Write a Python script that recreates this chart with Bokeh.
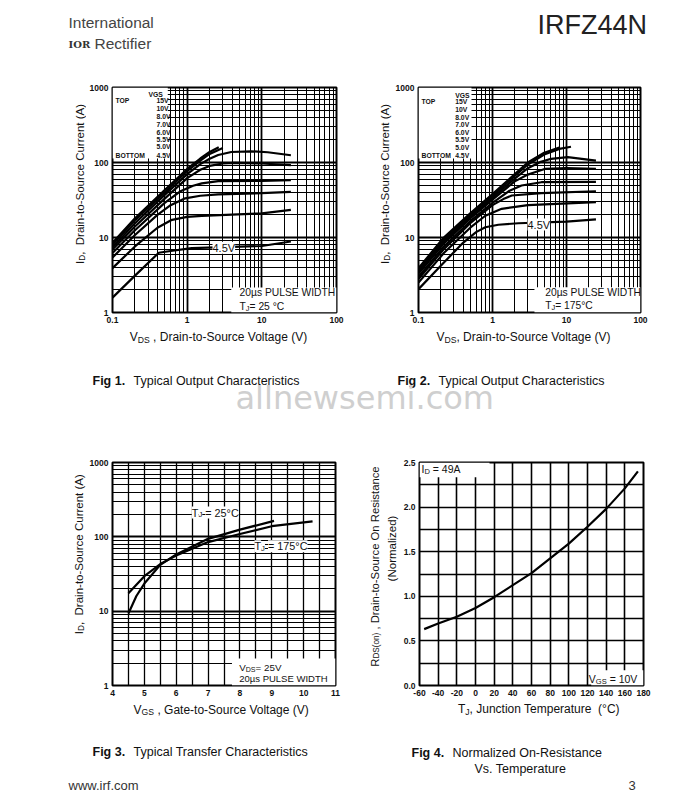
import math
from bokeh.plotting import figure
from bokeh.layouts import column, row
from bokeh.models import (Label, BoxAnnotation, FixedTicker, CustomJSTickFormatter,
                          PrintfTickFormatter, Range1d)
from bokeh.embed import file_html
from bokeh.resources import INLINE

# ---------------- data: Fig 1 (TJ = 25 C) ----------------
VGS_LABELS = ["15V", "10V", "8.0V", "7.0V", "6.0V", "5.5V", "5.0V", "4.5V"]
F1_15V_VDS = [0.1, 0.2, 0.5, 1.0, 1.5, 2.0, 2.65]
F1_15V_ID = [8.5, 18.0, 43.0, 82.0, 113.0, 138.0, 160.0]
F1_10V_VDS = [0.1, 0.2, 0.5, 1.0, 1.5, 2.0, 3.0]
F1_10V_ID = [8.0, 17.0, 40.0, 77.0, 106.0, 130.0, 156.0]
F1_8V_VDS = [0.1, 0.2, 0.5, 1.0, 1.5, 2.0, 2.6, 3.9, 7.2, 12.0, 24.5]
F1_8V_ID = [7.4, 15.5, 37.0, 70.0, 95.0, 112.0, 126.0, 138.0, 141.0, 137.0, 125.0]
F1_7V_VDS = [0.1, 0.2, 0.5, 1.0, 1.5, 2.0, 3.0, 4.3, 10.0, 24.5]
F1_7V_ID = [6.9, 14.0, 33.0, 62.0, 80.0, 90.0, 97.0, 99.0, 97.0, 92.0]
F1_6V_VDS = [0.1, 0.2, 0.5, 0.8, 1.2, 1.57, 2.6, 10.0, 24.5]
F1_6V_ID = [6.2, 12.5, 29.0, 41.0, 49.0, 52.7, 56.5, 57.0, 58.0]
F1_55V_VDS = [0.1, 0.2, 0.4, 0.6, 0.94, 1.5, 2.6, 10.0, 24.5]
F1_55V_ID = [5.4, 10.8, 20.0, 27.0, 33.3, 36.0, 37.6, 39.0, 40.7]
F1_5V_VDS = [0.1, 0.2, 0.4, 0.626, 1.0, 1.57, 10.0, 24.5]
F1_5V_ID = [3.9, 7.6, 13.5, 17.2, 18.8, 19.4, 21.0, 23.3]
F1_45V_VDS = [0.1, 0.2, 0.417, 0.6, 1.15, 10.0, 24.5]
F1_45V_ID = [1.58, 3.1, 6.26, 6.6, 7.2, 7.7, 8.84]

# ---------------- data: Fig 2 (TJ = 175 C) ----------------
F2_15V_VDS = [0.1, 0.22, 0.5, 1.0, 2.0, 3.0, 5.0, 8.0]
F2_15V_ID = [3.9, 10.0, 21.0, 38.0, 70.0, 100.0, 135.0, 158.0]
F2_10V_VDS = [0.1, 0.22, 0.5, 1.0, 2.0, 3.0, 5.0, 8.0, 11.5]
F2_10V_ID = [3.7, 9.4, 20.0, 36.0, 66.0, 94.0, 128.0, 152.0, 162.0]
F2_8V_VDS = [0.1, 0.22, 0.5, 1.0, 2.0, 3.0, 4.5, 6.2, 10.4, 25.0]
F2_8V_ID = [3.5, 8.8, 19.0, 34.0, 61.0, 84.0, 102.0, 112.0, 118.0, 106.0]
F2_7V_VDS = [0.1, 0.22, 0.5, 1.0, 2.0, 3.0, 3.73, 5.07, 10.0, 25.0]
F2_7V_ID = [3.3, 8.3, 18.0, 32.0, 56.0, 69.0, 74.0, 82.0, 84.0, 82.4]
F2_6V_VDS = [0.1, 0.22, 0.5, 1.0, 1.7, 2.47, 4.58, 25.0]
F2_6V_ID = [3.0, 7.6, 16.5, 29.0, 42.0, 49.3, 54.6, 55.0]
F2_55V_VDS = [0.1, 0.22, 0.5, 1.0, 1.4, 1.82, 4.58, 25.0]
F2_55V_ID = [2.8, 7.0, 15.5, 27.0, 32.5, 36.3, 39.0, 41.4]
F2_5V_VDS = [0.1, 0.22, 0.5, 0.8, 1.33, 3.0, 25.0]
F2_5V_ID = [2.5, 6.2, 13.5, 19.5, 24.1, 27.0, 29.6]
F2_45V_VDS = [0.1, 0.2, 0.4, 0.6, 0.8, 1.2, 2.23, 10.0, 25.0]
F2_45V_ID = [2.05, 4.2, 8.5, 11.8, 13.7, 14.8, 15.5, 16.3, 17.4]

# ---------------- data: Fig 3 (transfer) ----------------
F3_25C_VGS = [4.5, 4.75, 5.0, 5.5, 6.0, 7.0, 8.0, 9.07]
F3_25C_ID = [9.3, 16.0, 23.5, 42.0, 58.0, 94.0, 125.0, 164.0]
F3_175C_VGS = [4.5, 5.0, 5.5, 6.0, 7.0, 8.0, 9.0, 10.28]
F3_175C_ID = [17.4, 29.6, 43.0, 56.0, 85.0, 109.0, 139.0, 161.0]

# ---------------- data: Fig 4 (normalized RDS(on)) ----------------
F4_TJ = [-55, -40, -20, 0, 20, 40, 60, 80, 100, 120, 140, 160, 174]
F4_RDS = [0.632, 0.695, 0.77, 0.868, 0.99, 1.125, 1.26, 1.425, 1.59, 1.78, 1.98, 2.21, 2.40]

# tick values
LOG_X_TICKS = [0.1, 1, 10, 100]
LOG_Y_TICKS = [1, 10, 100, 1000]
F3_X_TICKS = [4, 5, 6, 7, 8, 9, 10, 11]
F4_X_TICKS = [-60, -40, -20, 0, 20, 40, 60, 80, 100, 120, 140, 160, 180]
F4_Y_TICKS = [0.0, 0.5, 1.0, 1.5, 2.0, 2.5]

FONT = "Liberation Sans"
AW = {' ': 278, '!': 278, '"': 355, '#': 556, '$': 556, '%': 889, '&': 667, "'": 191, '(': 333,
      ')': 333, '*': 389, '+': 584, ',': 278, '-': 333, '.': 278, '/': 278, ':': 278, ';': 278,
      '<': 584, '=': 584, '>': 584, '?': 556, '@': 1015, 'A': 667, 'B': 667, 'C': 722, 'D': 722,
      'E': 667, 'F': 611, 'G': 778, 'H': 722, 'I': 278, 'J': 500, 'K': 667, 'L': 556, 'M': 833,
      'N': 722, 'O': 778, 'P': 667, 'Q': 778, 'R': 722, 'S': 667, 'T': 611, 'U': 722, 'V': 667,
      'W': 944, 'X': 667, 'Y': 667, 'Z': 611, 'a': 556, 'b': 556, 'c': 500, 'd': 556, 'e': 556,
      'f': 278, 'g': 556, 'h': 556, 'i': 222, 'j': 222, 'k': 500, 'l': 222, 'm': 833, 'n': 556,
      'o': 556, 'p': 556, 'q': 556, 'r': 333, 's': 500, 't': 278, 'u': 556, 'v': 500, 'w': 722,
      'x': 500, 'y': 500, 'z': 500, '°': 400, 'µ': 556}
NBSP = "\u00a0"


def tw(s, size):
    return sum(AW.get(c, 556) for c in s) * size / 1000.0


def put(pane, x, y, text, size, bold=False, angle=0.0, color="#111111", font=FONT, bg=None,
        align="left"):
    # pane = (figure, frame_left, frame_bottom) in page pixels; (x, y) = left/centre of text
    p, fl, fb = pane
    lab = Label(x=x - fl, y=fb - y, x_units="screen", y_units="screen",
                text=text.replace("  ", " " + NBSP), angle=angle, text_font=font,
                text_font_size=f"{size}px", text_font_style="bold" if bold else "normal",
                text_color=color, text_baseline="middle", text_align=align)
    if bg:
        lab.background_fill_color = bg
    p.add_layout(lab)


def rich(pane, cx, cy, parts, size, vertical=False, start=None, bg=None):
    sizes = [size * 0.72 if k == "sub" else size for _, k in parts]
    total = sum(tw(t, s) for (t, k), s in zip(parts, sizes))
    pos = 0.0
    for (t, k), s in zip(parts, sizes):
        shift = 0.22 * size if k == "sub" else 0.0
        lead = len(t) - len(t.lstrip(" "))
        pos += tw(" " * lead, s)          # leading blanks become an offset
        body = t[lead:]
        if not vertical:
            x0 = (cx - total / 2) if start is None else start
            put(pane, x0 + pos, cy + shift, body, s, bg=bg)
        else:
            y0 = cy + total / 2
            put(pane, cx + shift, y0 - pos, body, s, angle=math.pi / 2)
        pos += tw(body, s)


def minors_log(k0, k1):
    return [m * 10.0 ** k for k in range(k0, k1) for m in range(2, 10)]


def make_fig(w, h, l, r, t, b, xr, yr, xlog, ylog):
    p = figure(width=w, height=h, min_border_left=l, min_border_right=r, min_border_top=t,
               min_border_bottom=b, x_range=xr, y_range=yr,
               x_axis_type="log" if xlog else "linear", y_axis_type="log" if ylog else "linear",
               output_backend="svg", toolbar_location=None)
    p.outline_line_color = "black"
    p.outline_line_width = 2
    p.background_fill_color = "white"
    p.border_fill_color = "white"
    for ax in (p.xaxis[0], p.yaxis[0]):
        ax.axis_line_color = None
        ax.major_tick_line_color = None
        ax.minor_tick_line_color = None
        ax.major_tick_out = 0
        ax.major_tick_in = 0
        ax.minor_tick_out = 0
        ax.minor_tick_in = 0
        ax.major_label_text_font = FONT
        ax.major_label_text_font_size = "8.5px"
        ax.major_label_text_font_style = "bold"
        ax.major_label_text_color = "#111111"
        ax.major_label_standoff = 4
    for g in (p.xgrid[0], p.ygrid[0]):
        g.level = "image"
        g.grid_line_color = "black"
        g.minor_grid_line_color = "black"
    return p


def strip(w, h):
    s = figure(width=w, height=h, x_range=Range1d(0, 1), y_range=Range1d(0, 1), min_border=0,
               x_axis_location=None, y_axis_location=None, output_backend="svg",
               toolbar_location=None)
    s.grid.visible = False
    s.outline_line_color = None
    s.background_fill_color = "white"
    s.border_fill_color = "white"
    return s


def set_ticks(p, dim, ticks, minors, fmt, major_w, minor_w):
    tk = FixedTicker(ticks=ticks, minor_ticks=minors)
    ax = p.xaxis[0] if dim == "x" else p.yaxis[0]
    g = p.xgrid[0] if dim == "x" else p.ygrid[0]
    ax.ticker = tk
    g.ticker = tk
    ax.formatter = fmt
    g.grid_line_width = major_w
    g.minor_grid_line_width = minor_w


def white_box(p, left, right, bottom, top):
    p.add_layout(BoxAnnotation(left=left, right=right, bottom=bottom, top=top,
                               fill_color="white", fill_alpha=1.0, line_color=None,
                               level="underlay"))


LOGFMT = CustomJSTickFormatter(code="return String(tick)")

# ---------------- Fig 1 ----------------
f1 = make_fig(264, 260, 24, 14, 17, 17, Range1d(0.1, 100), Range1d(1, 1000), True, True)
set_ticks(f1, "x", LOG_X_TICKS, minors_log(-1, 2), LOGFMT, 1.8, 1.0)
set_ticks(f1, "y", LOG_Y_TICKS, minors_log(0, 3), LOGFMT, 1.8, 1.0)
white_box(f1, 0.1, 0.55, 113, 1000)
white_box(f1, 3.9, 100, 1, 2.15)
for xs, ys in [(F1_15V_VDS, F1_15V_ID), (F1_10V_VDS, F1_10V_ID), (F1_8V_VDS, F1_8V_ID),
               (F1_7V_VDS, F1_7V_ID), (F1_6V_VDS, F1_6V_ID), (F1_55V_VDS, F1_55V_ID),
               (F1_5V_VDS, F1_5V_ID), (F1_45V_VDS, F1_45V_ID)]:
    f1.line(xs, ys, line_color="black", line_width=2.2, line_join="round")
P1 = (f1, 110, 313)

# ---------------- Fig 2 ----------------
f2 = make_fig(307, 260, 24, 59, 17, 18, Range1d(0.1, 100), Range1d(1, 1000), True, True)
set_ticks(f2, "x", LOG_X_TICKS, minors_log(-1, 2), LOGFMT, 1.8, 1.0)
set_ticks(f2, "y", LOG_Y_TICKS, minors_log(0, 3), LOGFMT, 1.8, 1.0)
white_box(f2, 0.1, 0.52, 113, 1000)
white_box(f2, 3.69, 100, 1, 2.17)
for xs, ys in [(F2_15V_VDS, F2_15V_ID), (F2_10V_VDS, F2_10V_ID), (F2_8V_VDS, F2_8V_ID),
               (F2_7V_VDS, F2_7V_ID), (F2_6V_VDS, F2_6V_ID), (F2_55V_VDS, F2_55V_ID),
               (F2_5V_VDS, F2_5V_ID), (F2_45V_VDS, F2_45V_ID)]:
    f2.line(xs, ys, line_color="black", line_width=2.2, line_join="round")
P2 = (f2, 416, 312)

# ---------------- Fig 3 ----------------
f3 = make_fig(264, 283, 24, 15, 41, 16, Range1d(4, 11), Range1d(1, 1000), False, True)
set_ticks(f3, "x", F3_X_TICKS, [v + 0.5 for v in F3_X_TICKS[:-1]],
          PrintfTickFormatter(format="%d"), 1.3, 1.3)
set_ticks(f3, "y", LOG_Y_TICKS, minors_log(0, 3), LOGFMT, 1.8, 1.0)
white_box(f3, 7.75, 11, 1, 2.31)
f3.line(F3_25C_VGS, F3_25C_ID, line_color="black", line_width=2.2, line_join="round")
f3.line(F3_175C_VGS, F3_175C_ID, line_color="black", line_width=2.2, line_join="round")
P3 = (f3, 110, 687)

# ---------------- Fig 4 ----------------
f4 = make_fig(299, 283, 19, 56, 42, 18, Range1d(-60, 180), Range1d(0, 2.5), False, False)
set_ticks(f4, "x", F4_X_TICKS, [], PrintfTickFormatter(format="%d"), 1.6, 1.6)
set_ticks(f4, "y", F4_Y_TICKS, [v + 0.25 for v in F4_Y_TICKS[:-1]],
          PrintfTickFormatter(format="%.1f"), 1.6, 1.6)
white_box(f4, -60, 15, 2.335, 2.5)
white_box(f4, 124, 180, 0, 0.17)
f4.line(F4_TJ, F4_RDS, line_color="black", line_width=2.2, line_join="round")
P4 = (f4, 419, 685)

# ---------------- text strips ----------------
header = strip(699, 70)
PH = (header, 0, 70)
ylab1 = strip(86, 260)
PY1 = (ylab1, 0, 330)
ylab2 = strip(42, 260)
PY2 = (ylab2, 350, 330)
mid = strip(699, 90)
PM = (mid, 0, 420)
ylab3 = strip(86, 283)
PY3 = (ylab3, 0, 703)
ylab4 = strip(50, 283)
PY4 = (ylab4, 350, 703)
foot = strip(699, 89)
PF = (foot, 0, 792)

# header
put(PH, 68, 22, "International", 15.5, color="#444444")
put(PH, 68, 43.5, "IOR", 10, bold=True, font="DejaVu Serif", color="#333333")
put(PH, 94, 43, "Rectifier", 15.5, color="#444444")
put(PH, 537, 24, "IRFZ44N", 27, color="#222222")

# legends fig1 / fig2
for pane, xl, xg, xv, ys in [(P1, 113, 146, 154, [94.5, 100.5, 109.3, 117.3, 125, 132.7, 140, 147.3, 155.7]),
                             (P2, 419, 452.7, 452.7, [94.5, 100.7, 109, 116.7, 124.3, 131.7, 139.3, 146.7, 155])]:
    put(pane, xg, ys[0], "VGS", 6.8, bold=True)
    for lbl, yy in zip(VGS_LABELS, ys[1:]):
        put(pane, xv, yy, lbl, 6.8, bold=True)
    put(pane, xl, ys[1], "TOP", 6.8, bold=True)
    put(pane, xl, ys[-1], "BOTTOM", 6.8, bold=True)

# in-plot notes
put(P1, 237, 293, "20µs PULSE WIDTH", 10.3)
rich(P1, 0, 306.5, [("T", "n"), ("J", "sub"), ("= 25 °C", "n")], 10.3, start=237)
put(P1, 210, 248.3, "4.5V", 11, bg="white")
put(P2, 542.7, 292.3, "20µs PULSE WIDTH", 10.3)
rich(P2, 0, 305, [("T", "n"), ("J", "sub"), ("= 175°C", "n")], 10.3, start=542.7)
put(P2, 525, 224, "4.5V", 11, bg="white")
rich(P3, 0, 669.3, [("V", "n"), ("DS", "sub"), ("= 25V", "n")], 9.8, start=236.7)
put(P3, 236.7, 680, "20µs PULSE WIDTH", 9.5)
rich(P3, 0, 514, [("T", "n"), ("J", "sub"), (" = 25°C", "n")], 10.8, start=189.3, bg="white")
rich(P3, 0, 547.7, [("T", "n"), ("J", "sub"), (" = 175°C", "n")], 10.8, start=252, bg="white")
rich(P4, 0, 468.3, [("I", "n"), ("D", "sub"), (" = 49A", "n")], 10.5, start=421)
rich(P4, 0, 678.3, [("V", "n"), ("GS", "sub"), (" = 10V", "n")], 10.5, start=588.3)

# axis titles
rich(PM, 218.3, 336.7, [("V", "n"), ("DS", "sub"), (" , Drain-to-Source Voltage (V)", "n")], 12)
rich(PY1, 79, 201.5, [("I", "n"), ("D", "sub"), (",  Drain-to-Source Current (A)", "n")], 11.5, vertical=True)
rich(PM, 523.3, 336.7, [("V", "n"), ("DS", "sub"), (", Drain-to-Source Voltage (V)", "n")], 12)
rich(PY2, 384.5, 201.5, [("I", "n"), ("D", "sub"), (",  Drain-to-Source Current (A)", "n")], 11.5, vertical=True)
rich(PF, 221, 709.3, [("V", "n"), ("GS", "sub"), (" , Gate-to-Source Voltage (V)", "n")], 12)
rich(PY3, 78.3, 571.7, [("I", "n"), ("D", "sub"), (",  Drain-to-Source Current (A)", "n")], 11.5, vertical=True)
rich(PF, 539, 708.5, [("T", "n"), ("J", "sub"), (", Junction Temperature  (°C)", "n")], 12)
rich(PY4, 374, 584, [("R", "n"), ("DS(on)", "sub"), (" , Drain-to-Source On Resistance", "n")], 11.3, vertical=True)
rich(PY4, 391.5, 566, [("(Normalized)", "n")], 11.5, vertical=True)

# captions, watermark, footer
put(PM, 92, 380, "Fig 1.", 12.5, bold=True)
put(PM, 133, 380, "Typical Output Characteristics", 12.5)
put(PM, 397, 380, "Fig 2.", 12.5, bold=True)
put(PM, 438, 380, "Typical Output Characteristics", 12.5)
put(PM, 235, 397, "allnewsemi.com", 32, font="DejaVu Sans", color="#cfcfcf")
put(PF, 92, 751, "Fig 3.", 12.5, bold=True)
put(PF, 133, 751, "Typical Transfer Characteristics", 12.5)
put(PF, 411, 752, "Fig 4.", 12.5, bold=True)
put(PF, 452, 752, "Normalized On-Resistance", 12.5)
put(PF, 474, 768, "Vs. Temperature", 12.5)
put(PF, 68, 785, "www.irf.com", 13, color="#333333")
put(PF, 628, 785, "3", 13, color="#333333")

layout = column(header,
                row(ylab1, f1, ylab2, f2),
                mid,
                row(ylab3, f3, ylab4, f4),
                foot)
open("out.html", "w").write(file_html(layout, INLINE, "IRFZ44N"))
